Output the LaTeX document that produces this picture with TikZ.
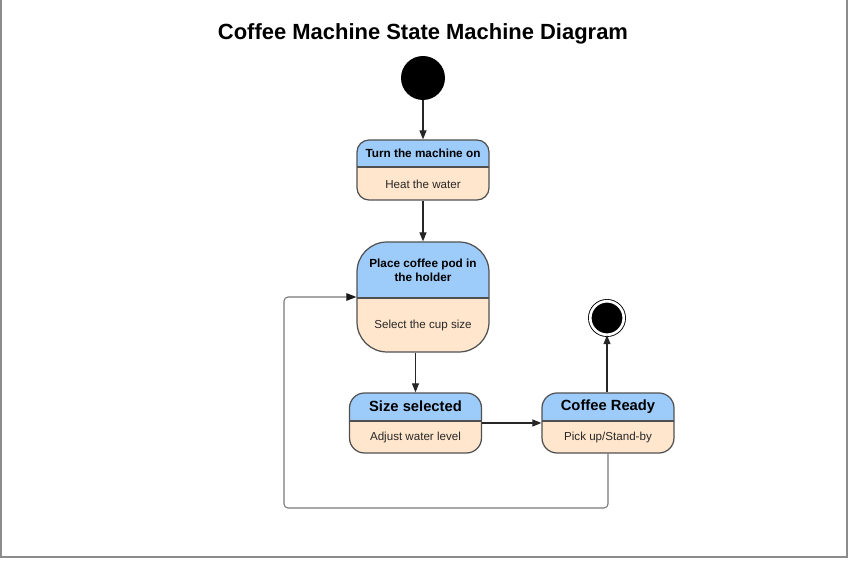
\documentclass[tikz,border=0pt]{standalone}
\usepackage{fontspec}
\setmainfont{Liberation Sans}
\usetikzlibrary{arrows.meta}

\definecolor{headblue}{RGB}{157,204,250}
\definecolor{bodypeach}{RGB}{255,230,204}
\definecolor{edgegray}{RGB}{80,80,80}
\definecolor{loopgray}{RGB}{120,120,120}
\definecolor{framegray}{RGB}{140,140,140}

\tikzset{
  state/.style={draw=edgegray, line width=0.7pt, fill=bodypeach, minimum width=2.64cm, inner sep=0pt,
    path picture={
      \fill[headblue, sharp corners] (path picture bounding box.north west) rectangle ([yshift=-#1]path picture bounding box.north east);
      \draw[edgegray, line width=0.7pt, sharp corners] ([yshift=-#1]path picture bounding box.north west) -- ([yshift=-#1]path picture bounding box.north east);}},
  hd/.style={font=\bfseries\fontsize{6.7}{8}\selectfont, align=center, inner sep=0pt},
  hdbig/.style={font=\bfseries\fontsize{8.4}{10}\selectfont, inner sep=0pt},
  bd/.style={font=\fontsize{6.6}{8}\selectfont, text=black!85, inner sep=0pt},
  arr/.style={-{Triangle[length=0.18cm,width=0.14cm]}, line width=0.6pt, draw=black!85},
  looparr/.style={-{Triangle[length=0.2cm,width=0.15cm,fill=black!90,color=black!90]}, line width=0.6pt, draw=loopgray, rounded corners=0.08cm}
}

\begin{document}
\begin{tikzpicture}[x=0.02cm, y=-0.02cm]
\useasboundingbox (0,0) rectangle (850,563);
\draw[framegray, line width=0.6pt] (1,0) -- (1,557) -- (847,557) -- (847,0);

\node[font=\bfseries\fontsize{12.5}{15}\selectfont] (title) at (423,34) {Coffee Machine State Machine Diagram};

\node[circle, fill=black, minimum size=0.88cm] (start) at (423,78) {};

\node[state=0.54cm, rounded corners=0.24cm, minimum height=1.2cm] (turnon) at (423,170) {};
\node[hd] (turnonh) at ([yshift=-0.27cm]turnon.north) {Turn the machine on};
\node[bd] (turnonb) at ([yshift=0.33cm]turnon.south) {Heat the water};

\node[state=1.12cm, rounded corners=0.6cm, minimum height=2.2cm] (podhold) at (423,297) {};
\node[hd] (podholdh) at ([yshift=-0.58cm]podhold.north) {Place coffee pod in\\the holder};
\node[bd] (podholdb) at ([yshift=0.54cm]podhold.south) {Select the cup size};

\node[state=0.56cm, rounded corners=0.3cm, minimum height=1.2cm] (sizesel) at (415.5,423) {};
\node[hdbig] (sizeselh) at ([yshift=-0.28cm]sizesel.north) {Size selected};
\node[bd] (sizeselb) at ([yshift=0.32cm]sizesel.south) {Adjust water level};

\node[state=0.56cm, rounded corners=0.3cm, minimum height=1.2cm] (ready) at (608,423) {};
\node[hdbig] (readyh) at ([yshift=-0.28cm]ready.north) {Coffee Ready};
\node[bd] (readyb) at ([yshift=0.32cm]ready.south) {Pick up/Stand-by};

\node[circle, draw=black, line width=0.5pt, double=white, double distance=1.5pt, fill=black, minimum size=0.67cm] (stop) at (607,318) {};

\coordinate (loopbl) at (284,508);

\draw[arr] (start) -- (turnon);
\draw[arr] (turnon) -- (podhold);
\draw[arr] (sizesel.north |- podhold.south) -- (sizesel.north);
\draw[arr] (sizesel.east) -- (ready.west);
\draw[arr] (ready.north -| stop.south) -- (stop.south);
\draw[looparr] (ready.south) |- (loopbl) |- (podhold.west);
\end{tikzpicture}
\end{document}
